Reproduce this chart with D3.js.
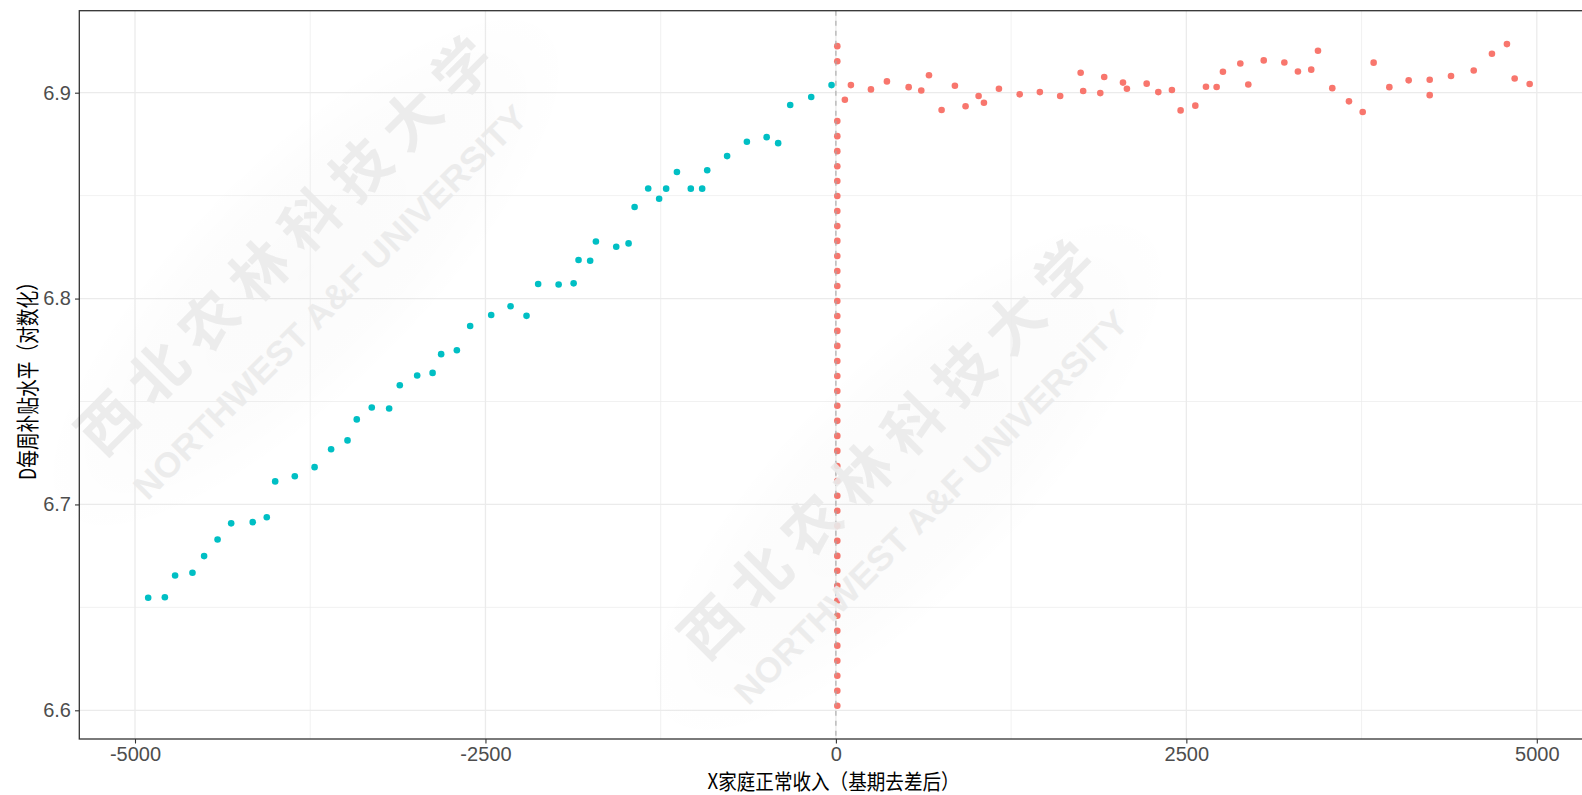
<!DOCTYPE html>
<html>
<head>
<meta charset="utf-8">
<script src="https://cdn.jsdelivr.net/npm/d3@7"></script>
<style>
  html, body { margin: 0; padding: 0; background: #fff; }
  svg { display: block; }
</style>
</head>
<body>
<svg id="chart" width="1582" height="795"></svg>
<script>
// ---------------- DATA ----------------
// Left of cutoff (teal group)
const leftX = [-4906, -4787, -4714, -4590, -4507, -4411, -4314, -4160, -4060, -4000,
  -3860, -3719, -3601, -3484, -3418, -3311, -3187, -3111, -2987, -2877,
  -2816, -2704, -2609, -2459, -2321, -2207, -2124, -1978, -1871, -1836,
  -1753, -1712, -1567, -1479, -1436, -1339, -1261, -1211, -1134, -1035,
  -954, -918, -776, -635, -494, -412, -326, -176, -31];
const leftY = [6.6547, 6.6549, 6.6655, 6.6668, 6.6749, 6.6830, 6.6908, 6.6914, 6.6938, 6.7112,
  6.7137, 6.7181, 6.7268, 6.7311, 6.7413, 6.7471, 6.7466, 6.7579, 6.7626, 6.7639,
  6.7730, 6.7749, 6.7867, 6.7920, 6.7963, 6.7916, 6.8071, 6.8068, 6.8074, 6.8187,
  6.8184, 6.8277, 6.8252, 6.8268, 6.8445, 6.8535, 6.8485, 6.8534, 6.8615, 6.8534,
  6.8534, 6.8623, 6.8692, 6.8762, 6.8784, 6.8755, 6.8940, 6.8979, 6.9037];

// Right of cutoff (red group)
const rightX = [64, 107, 250, 364, 519, 609, 664, 754, 849, 925,
  1018, 1056, 1163, 1311, 1455, 1600, 1746, 1764, 1886, 1914,
  2048, 2076, 2217, 2300, 2397, 2459, 2564, 2640, 2716, 2761,
  2885, 2942, 3052, 3199, 3296, 3391, 3439, 3541, 3660, 3758,
  3836, 3948, 4086, 4236, 4236, 4388, 4550, 4680, 4787, 4842, 4949];
const rightY = [6.8966, 6.9037, 6.9016, 6.9055, 6.9027, 6.9011, 6.9085, 6.8916, 6.9034, 6.8934,
  6.8984, 6.8951, 6.9019, 6.8992, 6.9003, 6.8984, 6.9097, 6.9008, 6.8998, 6.9076,
  6.9049, 6.9019, 6.9044, 6.9003, 6.9013, 6.8914, 6.8937, 6.9029, 6.9028, 6.9102,
  6.9142, 6.9040, 6.9157, 6.9147, 6.9103, 6.9112, 6.9204, 6.9022, 6.8958, 6.8906,
  6.9146, 6.9027, 6.9060, 6.9063, 6.8988, 6.9081, 6.9108, 6.9189, 6.9236, 6.9069, 6.9042];

// Red points stacked at the cutoff
const columnX = 10;
const columnY = [6.6022, 6.6095, 6.6168, 6.6241, 6.6314, 6.6386, 6.6459, 6.6532, 6.6605, 6.6678,
  6.6750, 6.6823, 6.6896, 6.6969, 6.7042, 6.7114, 6.7187, 6.7260, 6.7333, 6.7406,
  6.7479, 6.7551, 6.7624, 6.7697, 6.7770, 6.7843, 6.7915, 6.7988, 6.8061, 6.8134,
  6.8207, 6.8280, 6.8352, 6.8425, 6.8498, 6.8571, 6.8643, 6.8716, 6.8789, 6.8862,
  6.9153, 6.9226];

const cutoff = 0;
const xMajorTicks = [-5000, -2500, 0, 2500, 5000];
const xMinorTicks = [-3750, -1250, 1250, 3750];
const yMajorTicks = [6.6, 6.7, 6.8, 6.9];
const yMinorTicks = [6.65, 6.75, 6.85];
const xTitle = "X家庭正常收入（基期去差后）";
const yTitle = "D每周补贴水平（对数化）";
const wmCN = "西北农林科技大学";
const wmEN = "NORTHWEST A&F UNIVERSITY";

// ---------------- LAYOUT ----------------
const svg = d3.select("#chart");
const panel = { left: 79.3, top: 10.7, right: 1590, bottom: 739 };
const x = d3.scaleLinear().domain([-5000, 5000]).range([135, 1536.8]);
const y = d3.scaleLinear().domain([6.6, 6.9]).range([710.3, 92.7]);
const teal = "#00BFC4", red = "#F8766D";
const tickFont = "'Liberation Sans', Arial, Helvetica, sans-serif";
const cjkFont = "'Noto Sans CJK SC', 'Noto Sans', sans-serif";

// panel background
svg.append("rect").attr("x", panel.left).attr("y", panel.top)
  .attr("width", panel.right - panel.left).attr("height", panel.bottom - panel.top)
  .attr("fill", "#fff");

const defs = svg.append("defs");
defs.append("clipPath").attr("id", "pclip").append("rect")
  .attr("x", panel.left).attr("y", panel.top)
  .attr("width", panel.right - panel.left).attr("height", panel.bottom - panel.top);
const grad = defs.append("radialGradient").attr("id", "wmbg");
grad.append("stop").attr("offset", "0%").attr("stop-color", "#000").attr("stop-opacity", 0.018);
grad.append("stop").attr("offset", "70%").attr("stop-color", "#000").attr("stop-opacity", 0.01);
grad.append("stop").attr("offset", "100%").attr("stop-color", "#000").attr("stop-opacity", 0);

const g = svg.append("g").attr("clip-path", "url(#pclip)");

// grid
g.selectAll(".xminor").data(xMinorTicks).enter().append("line")
  .attr("x1", d => x(d)).attr("x2", d => x(d)).attr("y1", panel.top).attr("y2", panel.bottom)
  .attr("stroke", "#EBEBEB").attr("stroke-width", 0.7);
g.selectAll(".yminor").data(yMinorTicks).enter().append("line")
  .attr("y1", d => y(d)).attr("y2", d => y(d)).attr("x1", panel.left).attr("x2", panel.right)
  .attr("stroke", "#EBEBEB").attr("stroke-width", 0.7);
g.selectAll(".xmajor").data(xMajorTicks).enter().append("line")
  .attr("x1", d => x(d)).attr("x2", d => x(d)).attr("y1", panel.top).attr("y2", panel.bottom)
  .attr("stroke", "#EBEBEB").attr("stroke-width", 1.3);
g.selectAll(".ymajor").data(yMajorTicks).enter().append("line")
  .attr("y1", d => y(d)).attr("y2", d => y(d)).attr("x1", panel.left).attr("x2", panel.right)
  .attr("stroke", "#EBEBEB").attr("stroke-width", 1.3);

// watermarks
function watermark(cx, cy, ex, ey) {
  const wg = svg.append("g").attr("pointer-events", "none");
  const mid = [(cx + ex) / 2, (cy + ey) / 2];
  wg.append("ellipse")
    .attr("cx", mid[0]).attr("cy", mid[1]).attr("rx", 360).attr("ry", 120)
    .attr("transform", `rotate(-45, ${mid[0]}, ${mid[1]})`)
    .attr("fill", "url(#wmbg)");
  wg.append("text").text(wmCN)
    .attr("x", cx).attr("y", cy)
    .attr("transform", `rotate(-45, ${cx}, ${cy})`)
    .attr("text-anchor", "middle").attr("dominant-baseline", "central")
    .attr("font-family", cjkFont).attr("font-weight", 700).attr("font-size", 58)
    .attr("textLength", 560).attr("lengthAdjust", "spacing")
    .attr("fill", "#ebebeb").attr("opacity", 0.9);
  wg.append("text").text(wmEN)
    .attr("x", ex).attr("y", ey)
    .attr("transform", `rotate(-45, ${ex}, ${ey})`)
    .attr("text-anchor", "middle").attr("dominant-baseline", "central")
    .attr("font-family", "'Liberation Sans', Arial, sans-serif").attr("font-weight", 700).attr("font-size", 34)
    .attr("textLength", 540).attr("lengthAdjust", "spacingAndGlyphs")
    .attr("fill", "#ebebeb").attr("opacity", 0.9);
}
watermark(282, 243, 330, 302);
watermark(885, 447, 931, 507);

// points
g.selectAll(".lp").data(leftX.map((d, i) => [d, leftY[i]])).enter().append("circle")
  .attr("cx", d => x(d[0])).attr("cy", d => y(d[1])).attr("r", 3.3).attr("fill", teal);
g.selectAll(".rp").data(rightX.map((d, i) => [d, rightY[i]])).enter().append("circle")
  .attr("cx", d => x(d[0])).attr("cy", d => y(d[1])).attr("r", 3.3).attr("fill", red);
g.selectAll(".cp").data(columnY).enter().append("circle")
  .attr("cx", x(columnX)).attr("cy", d => y(d)).attr("r", 3.3).attr("fill", red);

// cutoff line
g.append("line").attr("x1", x(cutoff)).attr("x2", x(cutoff))
  .attr("y1", panel.top).attr("y2", panel.bottom)
  .attr("stroke", "#a8a8a8").attr("stroke-width", 1.1).attr("stroke-dasharray", "5,5");

// panel border
svg.append("rect").attr("x", panel.left).attr("y", panel.top)
  .attr("width", panel.right - panel.left).attr("height", panel.bottom - panel.top)
  .attr("fill", "none").attr("stroke", "#333333").attr("stroke-width", 1.3);

// axes
const xAxis = d3.axisBottom(x).tickValues(xMajorTicks).tickFormat(d3.format("d"))
  .tickSize(4.5).tickPadding(3);
const gx = svg.append("g").attr("transform", `translate(0, ${panel.bottom})`).call(xAxis);
gx.select(".domain").remove();
gx.selectAll(".tick line").attr("stroke", "#333333").attr("stroke-width", 1.1);
gx.selectAll(".tick text").attr("font-family", tickFont).attr("font-size", 20)
  .attr("fill", "#4D4D4D").text(d => d < 0 ? "-" + Math.abs(d) : d);

const yAxis = d3.axisLeft(y).tickValues(yMajorTicks).tickFormat(d3.format(".1f"))
  .tickSize(4.3).tickPadding(4);
const gy = svg.append("g").attr("transform", `translate(${panel.left}, 0)`).call(yAxis);
gy.select(".domain").remove();
gy.selectAll(".tick line").attr("stroke", "#333333").attr("stroke-width", 1.1);
gy.selectAll(".tick text").attr("font-family", tickFont).attr("font-size", 20)
  .attr("fill", "#4D4D4D");

// titles
svg.append("text").text(xTitle)
  .attr("x", 833.6).attr("y", 780).attr("text-anchor", "middle")
  .attr("dominant-baseline", "central")
  .attr("font-family", cjkFont).attr("font-size", 21).attr("fill", "#000")
  .attr("textLength", 252).attr("lengthAdjust", "spacingAndGlyphs");

svg.append("text").text(yTitle)
  .attr("transform", "translate(26, 376.5) rotate(-90)")
  .attr("text-anchor", "middle").attr("dominant-baseline", "central")
  .attr("font-family", cjkFont).attr("font-size", 23).attr("fill", "#000")
  .attr("textLength", 207).attr("lengthAdjust", "spacingAndGlyphs");
</script>
</body>
</html>
